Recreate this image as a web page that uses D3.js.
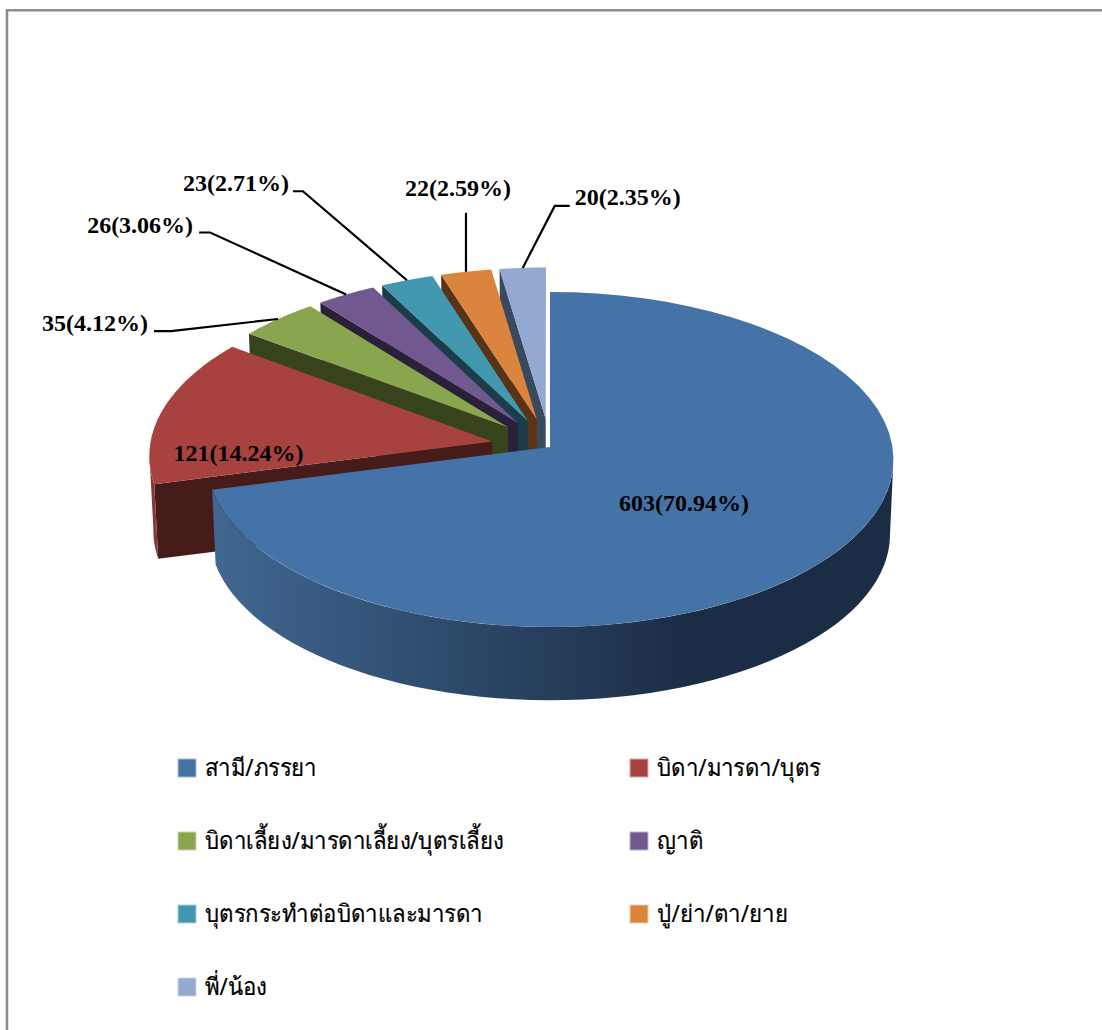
<!DOCTYPE html>
<html lang="th">
<head>
    <meta charset="UTF-8">
    <title>Pie</title>
    <script src="https://cdn.jsdelivr.net/npm/d3@7"></script>
    <style>
        html, body { margin: 0; background: #fff; }
        svg { display: block; }
        .val { font-family: "Liberation Serif", serif; font-weight: bold; font-size: 24px; fill: #000; }
        .leg { font-family: "Noto Sans", "DejaVu Sans", sans-serif; font-size: 24px; fill: #000; stroke: #000; stroke-width: 0.25; }
    </style>
</head>
<body>
<div id="main"></div>
<script>
    const categories = ["สามี/ภรรยา", "บิดา/มารดา/บุตร", "บิดาเลี้ยง/มารดาเลี้ยง/บุตรเลี้ยง", "ญาติ", "บุตรกระทำต่อบิดาและมารดา", "ปู่/ย่า/ตา/ยาย", "พี่/น้อง"];
    const counts = [603, 121, 35, 26, 23, 22, 20];
    const percents = ["70.94", "14.24", "4.12", "3.06", "2.71", "2.59", "2.35"];

    const colors = ["#4572A7", "#A8423F", "#89A54E", "#71588F", "#4198AF", "#DB843D", "#93A9CF"];
    const wallColors = ["#1b2d45", "#451c19", "#36431d", "#2b2039", "#1b3d4a", "#5a3315", "#3a4a5e"];
    const outerColors = ["#1b2d45", "#8a3734", "#36431d", "#2b2039", "#1b3d4a", "#5a3315", "#3a4a5e"];

    // label placement, relative to the point on the slice rim at its mid angle
    const labelLayout = [
        {dx: -150, dy: -43, anchor: "middle"},
        {dx: 76, dy: 51, anchor: "middle"},
        {dx: -130, dy: 12, anchor: "end", elbow: [-107, 12], end: [-124, 12]},
        {dx: -153, dy: -61, anchor: "end", elbow: [-136, -62], end: [-147, -62]},
        {dx: -118, dy: -89, anchor: "end", elbow: [-104, -89], end: [-114, -89]},
        {dx: -8, dy: -76, anchor: "middle", end: [0, -59]},
        {dx: 52, dy: -63, anchor: "start", elbow: [32, -62], end: [47, -62]}
    ];

    const w = 1102, h = 1030;
    const persp = 0.0746, explode = 0.172, lowerScale = 0.99, depth = 75;

    const svg = d3.select("#main").append("svg").attr("width", w).attr("height", h);

    const sx = d3.scaleLinear().domain([0, 1]).range([550, 892.5]);
    const sy = d3.scaleLinear().domain([0, 1]).range([447, 280.4]);

    const defs = svg.append("defs");
    const grad = defs.append("linearGradient").attr("id", "rim")
        .attr("gradientUnits", "userSpaceOnUse")
        .attr("x1", sx(-1)).attr("x2", sx(0.4)).attr("y1", 0).attr("y2", 0);
    grad.append("stop").attr("offset", 0).attr("stop-color", "#416893");
    grad.append("stop").attr("offset", 1).attr("stop-color", "#1b2d45");

    const arcs = d3.pie().sort(null).startAngle(0).endAngle(2 * Math.PI)(counts);

    // r and angle on the pie plane -> screen, with the slice pulled out along its mid angle
    function project(d, i, angle, r, lower) {
        const mid = (d.startAngle + d.endAngle) / 2;
        const e = i === 0 ? 0 : explode;
        const px = r * Math.sin(angle) + e * Math.sin(mid);
        const py = r * Math.cos(angle) + e * Math.cos(mid);
        const s = 1 / (1 + persp * py) * (lower ? lowerScale : 1);
        return [sx(px * s), sy(py * s) + (lower ? depth : 0)];
    }

    const line = d3.line();
    const steps = (a, b) => d3.range(0, 61).map(k => a + (b - a) * k / 60);

    function topFace(d, i) {
        const rim = steps(d.startAngle, d.endAngle).map(a => project(d, i, a, 1, false));
        return line([project(d, i, 0, 0, false), ...rim]) + "Z";
    }
    function cutWall(d, i) {
        const a = d.startAngle;
        return line([project(d, i, a, 0, false), project(d, i, a, 1, false), project(d, i, a, 1, true), project(d, i, a, 0, true)]) + "Z";
    }
    function outerWall(d, i) {
        // only the part of the rim that faces the viewer
        const a0 = Math.max(d.startAngle, Math.acos(-persp));
        const a1 = Math.min(d.endAngle, 2 * Math.PI - Math.acos(-persp));
        if (a1 <= a0) return null;
        const upper = steps(a0, a1).map(a => project(d, i, a, 1, false));
        const lower = steps(a0, a1).map(a => project(d, i, a, 1, true)).reverse();
        return line([...upper, ...lower]) + "Z";
    }

    // frame
    svg.append("path").attr("d", line([[7, h], [7, 10.2], [w, 10.2]]))
        .attr("fill", "none").attr("stroke", "#8c8c8c").attr("stroke-width", 2.6);

    // painted from the back slice to the front one
    const order = d3.range(counts.length).reverse();
    const slices = svg.append("g").selectAll("g").data(order).enter().append("g");
    slices.append("path")
        .attr("d", i => i === 0 ? null : cutWall(arcs[i], i))
        .attr("fill", i => wallColors[i]);
    slices.append("path")
        .attr("d", i => outerWall(arcs[i], i))
        .attr("fill", i => i === 0 ? "url(#rim)" : outerColors[i]);
    slices.append("path")
        .attr("d", i => topFace(arcs[i], i))
        .attr("fill", i => colors[i]);

    // leaders and value labels
    arcs.forEach((d, i) => {
        const mid = (d.startAngle + d.endAngle) / 2;
        const p = project(d, i, mid, 1, false);
        const l = labelLayout[i];
        const at = o => [p[0] + o[0], p[1] + o[1]];
        if (l.end) {
            const pts = l.elbow ? [p, at(l.elbow), at(l.end)] : [p, at(l.end)];
            svg.append("path").attr("d", line(pts))
                .attr("fill", "none").attr("stroke", "#000").attr("stroke-width", 2.2);
        }
        svg.append("text").attr("class", "val")
            .attr("x", p[0] + l.dx).attr("y", p[1] + l.dy)
            .attr("text-anchor", l.anchor)
            .text(counts[i] + "(" + percents[i] + "%)");
    });

    // legend
    const legX = d3.scaleOrdinal().domain([0, 1]).range([178, 630]);
    const legY = d3.scaleLinear().domain([0, 3]).range([768, 987]);
    const leg = svg.append("g").selectAll("g").data(categories).enter().append("g")
        .attr("transform", (c, i) => "translate(" + legX(i % 2) + "," + legY(Math.floor(i / 2)) + ")");
    leg.append("rect").attr("x", 0).attr("y", -9).attr("width", 18).attr("height", 18)
        .attr("fill", (c, i) => colors[i])
        .attr("stroke", (c, i) => d3.interpolateRgb(colors[i], "#fff")(0.55))
        .attr("stroke-width", 1);
    leg.append("text").attr("class", "leg")
        .attr("transform", "translate(27,8) scale(0.925,1)")
        .text(c => c);
</script>
</body>
</html>
